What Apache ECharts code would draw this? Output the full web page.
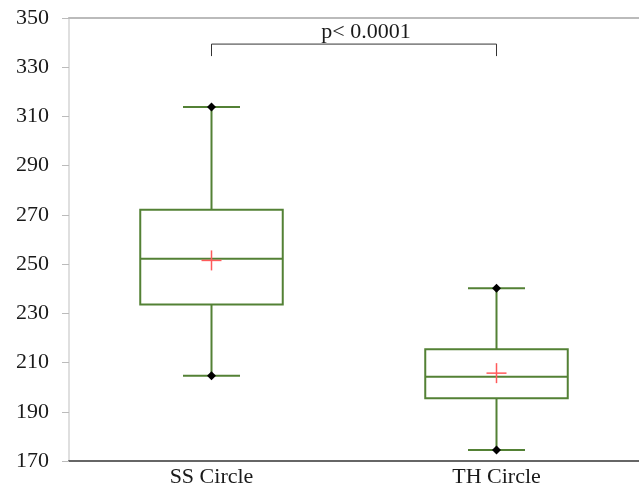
<!DOCTYPE html>
<html>
<head>
<meta charset="utf-8">
<script src="https://cdn.jsdelivr.net/npm/echarts@6/dist/echarts.min.js"></script>
<style>html,body{margin:0;padding:0;background:#fff}#c{width:639px;height:487px}</style>
</head>
<body>
<div id="c"></div>
<script>
const categories = ['SS Circle', 'TH Circle'];
const mins = [204.6, 174.5];
const q1s = [233.6, 195.5];
const medians = [252.2, 204.2];
const q3s = [272.1, 215.4];
const maxs = [313.8, 240.2];
const means = [251.5, 205.7];
const yTicks = { min: 170, max: 350, interval: 20 };
const pLabel = 'p< 0.0001';
const comparePair = [0, 1];

const GREEN = '#538135';
const RED = '#ff5a5a';
const FONT = "'Liberation Serif', 'Times New Roman', serif";

const boxData = categories.map((c, i) => [i, mins[i], q1s[i], medians[i], q3s[i], maxs[i], means[i]]);

function renderBox(params, api) {
  const x = api.value(0);
  const band = api.size([1, 0])[0];
  const bw = band * 0.5, cw = band * 0.2;
  const pMin = api.coord([x, api.value(1)]);
  const pQ1 = api.coord([x, api.value(2)]);
  const pMed = api.coord([x, api.value(3)]);
  const pQ3 = api.coord([x, api.value(4)]);
  const pMax = api.coord([x, api.value(5)]);
  const pMean = api.coord([x, api.value(6)]);
  const cx = pMed[0];
  const ls = { stroke: GREEN, lineWidth: 2, fill: null };
  const line = (x1, y1, x2, y2, style) => ({ type: 'line', shape: { x1, y1, x2, y2 }, style: style || ls });
  const diamond = (p) => ({ type: 'polygon', shape: { points: [[p[0], p[1] - 4.5], [p[0] + 4.5, p[1]], [p[0], p[1] + 4.5], [p[0] - 4.5, p[1]]] }, style: { fill: '#000' } });
  const rs = { stroke: RED, lineWidth: 1.5 };
  return {
    type: 'group',
    children: [
      { type: 'rect', shape: { x: cx - bw / 2, y: pQ3[1], width: bw, height: pQ1[1] - pQ3[1] }, style: ls },
      line(cx - bw / 2, pMed[1], cx + bw / 2, pMed[1]),
      line(cx, pQ3[1], cx, pMax[1]),
      line(cx, pQ1[1], cx, pMin[1]),
      line(cx - cw / 2, pMax[1], cx + cw / 2, pMax[1]),
      line(cx - cw / 2, pMin[1], cx + cw / 2, pMin[1]),
      diamond(pMax),
      diamond(pMin),
      line(pMean[0] - 10, pMean[1], pMean[0] + 10, pMean[1], rs),
      line(pMean[0], pMean[1] - 10, pMean[0], pMean[1] + 10, rs)
    ]
  };
}

function renderBracket(params, api) {
  const a = api.coord([api.value(0), 339.4]);
  const b = api.coord([api.value(1), 339.4]);
  const drop = 12;
  const s = { stroke: '#333', lineWidth: 1 };
  return {
    type: 'group',
    children: [
      { type: 'polyline', shape: { points: [[a[0], a[1] + drop], [a[0], a[1]], [b[0], a[1]], [b[0], a[1] + drop]] }, style: Object.assign({ fill: null }, s) },
      { type: 'text', x: (a[0] + b[0]) / 2 + 12, y: a[1] - 1, style: { text: pLabel, font: '22px ' + FONT, fill: '#1a1a1a', align: 'center', verticalAlign: 'bottom' } }
    ]
  };
}

const chart = echarts.init(document.getElementById('c'));
chart.setOption({
  animation: false,
  grid: { left: 69, right: 0, top: 18, bottom: 26, containLabel: false, outerBoundsMode: 'none' },
  xAxis: [{
    type: 'category',
    data: categories,
    axisLine: { lineStyle: { color: '#666', width: 2 } },
    axisTick: { show: false },
    axisLabel: { color: '#1a1a1a', fontFamily: FONT, fontSize: 22, margin: 5 },
    splitLine: { show: false }
  }, {
    type: 'category',
    position: 'top',
    data: categories,
    axisLine: { lineStyle: { color: '#bbb', width: 2 } },
    axisTick: { show: false },
    axisLabel: { show: false }
  }],
  yAxis: {
    type: 'value',
    min: yTicks.min, max: yTicks.max, interval: yTicks.interval,
    axisLine: { show: true, lineStyle: { color: '#d4d4d4', width: 1.5 } },
    axisTick: { show: true, length: 7, lineStyle: { color: '#bbb' } },
    axisLabel: { color: '#1a1a1a', fontFamily: FONT, fontSize: 22, margin: 20 },
    splitLine: { show: false }
  },
  series: [
    { type: 'custom', renderItem: renderBox, data: boxData, encode: { x: 0, y: [1, 2, 3, 4, 5] } },
    { type: 'custom', renderItem: renderBracket, data: [comparePair], encode: { x: [0, 1] }, z: 3 }
  ]
});
</script>
</body>
</html>
